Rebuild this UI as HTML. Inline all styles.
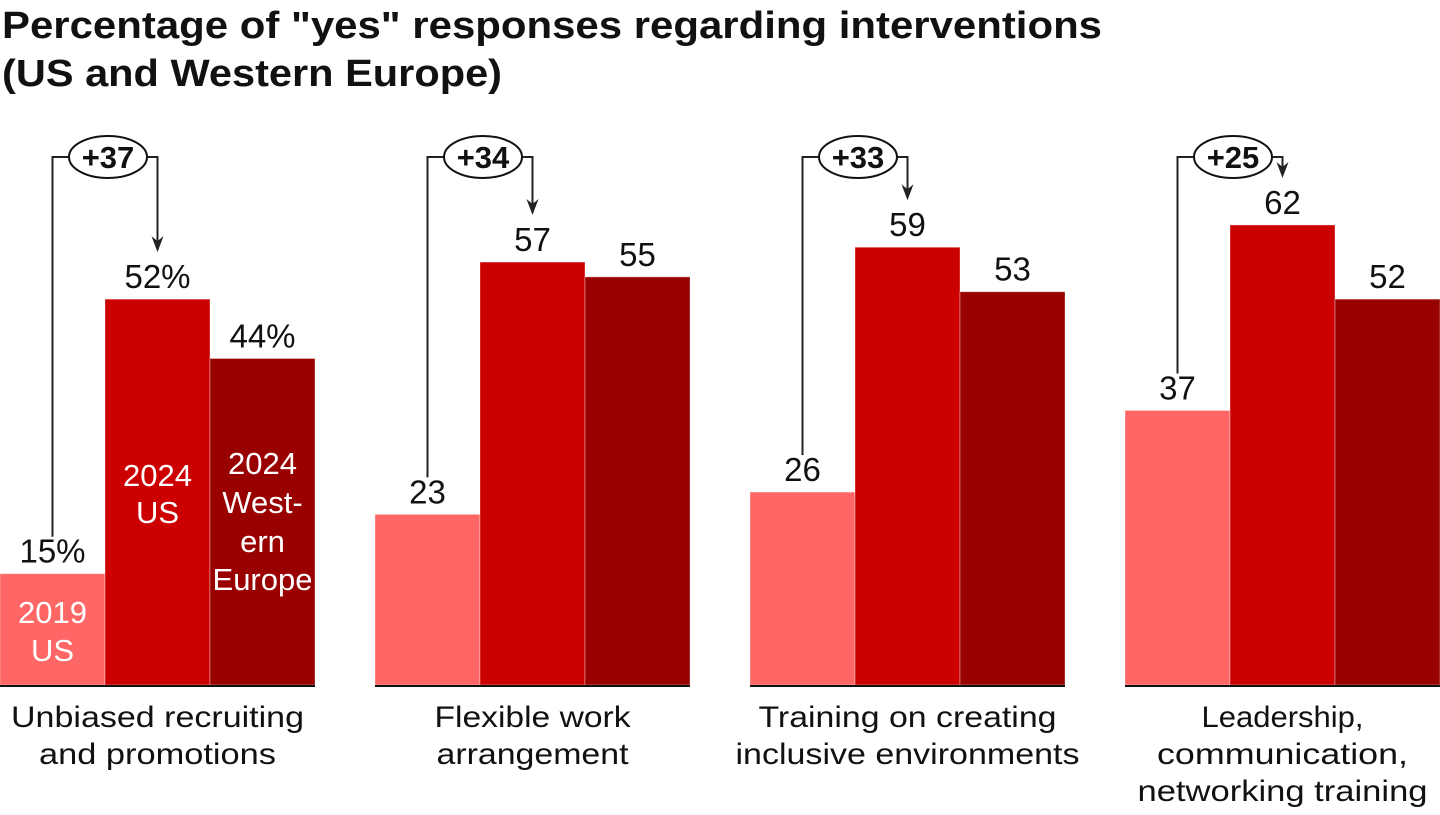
<!DOCTYPE html>
<html><head><meta charset="utf-8"><style>
body{margin:0;background:#fff;width:1440px;height:810px;overflow:hidden;font-family:"Liberation Sans",sans-serif}
</style></head><body>
<svg width="1440" height="810" id="c">
<text x="2" y="38" font-size="38" font-weight="bold" fill="#111" textLength="1100" lengthAdjust="spacingAndGlyphs">Percentage of "yes" responses regarding interventions</text>
<text x="2" y="86" font-size="38" font-weight="bold" fill="#111" textLength="500" lengthAdjust="spacingAndGlyphs">(US and Western Europe)</text>
</svg>
<script>
const categories=[["Unbiased recruiting","and promotions"],["Flexible work","arrangement"],["Training on creating","inclusive environments"],["Leadership,","communication,","networking training"]];
const catWidths=[[293,237],[196,192],[298,344],[162,251,290]];
const us2019=[15,23,26,37];
const us2024=[52,57,59,62];
const we2024=[44,55,53,52];
const changes=["+37","+34","+33","+25"];
const svg=document.getElementById('c');
const NS='http://www.w3.org/2000/svg';
const base=685, scale=7.42, bw=105;
const colors=['#ff6666','#cc0000','#990000'];
function y(v){return base-v*scale;}
function gx(i){return i*375;}
function mk(t,a,p){const e=document.createElementNS(NS,t);for(const k in a)e.setAttribute(k,a[k]);(p||svg).appendChild(e);return e;}
for(let i=0;i<4;i++){
  const g=mk('g',{});
  
  
  const vals=[us2019[i],us2024[i],we2024[i]];
  vals.forEach((v,j)=>{
    const x=gx(i)+j*bw;
    const r=mk('rect',{x:x,y:y(v),width:bw,height:v*scale,fill:colors[j],stroke:'rgba(255,255,255,0.35)','stroke-width':1},g);
    
    
    const t=mk('text',{x:x+bw/2,y:y(v)-11,'font-size':33,'text-anchor':'middle',fill:'#111'},g);
    t.textContent=v+(i==0?'%':'');
    
    
  });
  const bl=mk('line',{x1:gx(i),x2:gx(i)+315,y1:base+1,y2:base+1,stroke:'#111','stroke-width':2},g);
  
  
  const cx=gx(i)+bw/2, cx2=gx(i)+bw*1.5, ex=gx(i)+108, ey=157;
  const tipY=y(us2024[i])-47;
  const p=mk('path',{d:`M${cx},${y(us2019[i])-37} V${ey} H${cx2} V${tipY-8}`,fill:'none',stroke:'#222','stroke-width':2},g);
  
  
  const ah=mk('path',{d:`M${cx2-6},${tipY-16} L${cx2},${tipY} L${cx2+6},${tipY-16} L${cx2},${tipY-11} Z`,fill:'#222'},g);
  
  
  const el=mk('ellipse',{cx:ex,cy:ey,rx:39,ry:21,fill:'#fff',stroke:'#111','stroke-width':2},g);
  
  
  const ct=mk('text',{x:ex,y:ey+11,'font-size':31,'font-weight':'bold','text-anchor':'middle',fill:'#111'},g);
  ct.textContent=changes[i];
  
  
  categories[i].forEach((s,k)=>{
    const t=mk('text',{x:gx(i)+157.5-catWidths[i][k]/2,y:727+k*37,'font-size':30,fill:'#111',textLength:catWidths[i][k],lengthAdjust:'spacingAndGlyphs'},g);
    t.textContent=s;
    
    
  });
}
const inner=[[52.5,[612,650],["2019","US"]],[157.5,[475,512],["2024","US"]],[262.5,[463,502,541,579],["2024","West-","ern","Europe"]]];
inner.forEach(([x,ys,ls])=>{ls.forEach((s,k)=>{
  const t=mk('text',{x:x,y:ys[k]+11,'font-size':31,'text-anchor':'middle',fill:'#fff'});
  t.textContent=s;
  
  
});});
</script>
</body></html>
